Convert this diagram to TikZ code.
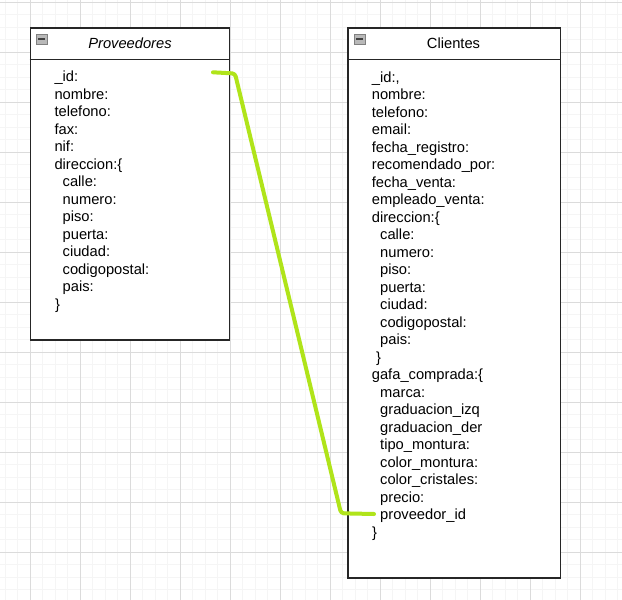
\documentclass[tikz,border=0pt]{standalone}
\usepackage{fontspec}
\setmainfont{Liberation Sans}
\begin{document}
\begin{tikzpicture}[x=1pt,y=-1pt,
  minorgrid/.style={draw=black!4, line width=1.2pt},
  majorgrid/.style={draw=black!14, line width=1pt},
  entity/.style={draw=black!85, line width=1.4pt, fill=white, inner sep=0pt, anchor=north west},
  boxtitle/.style={inner sep=0pt, anchor=base, font=\fontsize{14.7}{17.5}\selectfont},
  fieldtext/.style={inner sep=0pt, anchor=base west, font=\fontsize{14.7}{17.5}\selectfont},
  collapse/.style={draw=black!50, fill=black!28, line width=0.8pt},
  collapsebar/.style={draw=black!75, line width=1.4pt},
  link/.style={draw={rgb,255:red,176;green,228;blue,26}, line width=4pt, line cap=round, line join=round, rounded corners=3pt}
]
\useasboundingbox (0,0) rectangle (622,600);
\fill[white] (0,0) rectangle (622,600);

% background grid
\foreach \x in {5.3,17.8,...,622} \draw[minorgrid] (\x,0) -- (\x,600);
\foreach \y in {2.3,14.8,...,600} \draw[minorgrid] (0,\y) -- (622,\y);
\foreach \x in {30.3,80.3,...,622} \draw[majorgrid] (\x,0) -- (\x,600);
\foreach \y in {2.3,52.3,...,600} \draw[majorgrid] (0,\y) -- (622,\y);

% Proveedores entity
\node[entity, minimum width=199.5pt, minimum height=312pt] (prov) at (29.5,27.3) {};
\draw[entity] (29.5,59.3) -- (229,59.3);
\draw[collapse] (36,34) rectangle (47,44);
\draw[collapsebar] (38,39) -- (45,39);
\node[boxtitle] (prov-title) at (130,48) {\itshape Proveedores};
\foreach \dx/\t [count=\i from 0] in {
  0/\_id:, 0/nombre:, 0/telefono:, 0/fax:, 0/nif:, 0/direccion:\{,
  8.2/calle:, 8.2/numero:, 8.2/piso:, 8.2/puerta:, 8.2/ciudad:,
  8.2/codigopostal:, 8.2/pais:, 0.5/\}}
  \node[fieldtext] (prov-f\i) at (54.3+\dx, 81.6+\i*17.5) {\t};

% Clientes entity
\node[entity, minimum width=212.7pt, minimum height=550pt] (cli) at (347.3,27.3) {};
\draw[entity] (347.3,59.3) -- (560,59.3);
\draw[collapse] (354,34) rectangle (365,44);
\draw[collapsebar] (356,39) -- (363,39);
\node[boxtitle] (cli-title) at (453.5,48) {Clientes};
\foreach \dx/\t [count=\i from 0] in {
  0/{\_id:,}, 0/nombre:, 0/telefono:, 0/email:, 0/fecha\_registro:,
  0/recomendado\_por:, 0/fecha\_venta:, 0/empleado\_venta:, 0/direccion:\{,
  8.3/calle:, 8.3/numero:, 8.3/piso:, 8.3/puerta:, 8.3/ciudad:,
  8.3/codigopostal:, 8.3/pais:, 4.3/\}, 0/gafa\_comprada:\{,
  8.3/marca:, 8.3/graduacion\_izq, 8.3/graduacion\_der, 8.3/tipo\_montura:,
  8.3/color\_montura:, 8.3/color\_cristales:, 8.3/precio:, 8.3/proveedor\_id,
  0.3/\}}
  \node[fieldtext] (cli-f\i) at (371.7+\dx, 82+\i*17.5) {\t};

% relation: Proveedores._id -> Clientes.gafa_comprada.proveedor_id
\coordinate (prov-id-port) at (213,72.3);
\coordinate (cli-prov-port) at (374,514);
\draw[link] (prov-id-port) -- (235,73.5) -- (341,513.3) -- (cli-prov-port);
\end{tikzpicture}
\end{document}
